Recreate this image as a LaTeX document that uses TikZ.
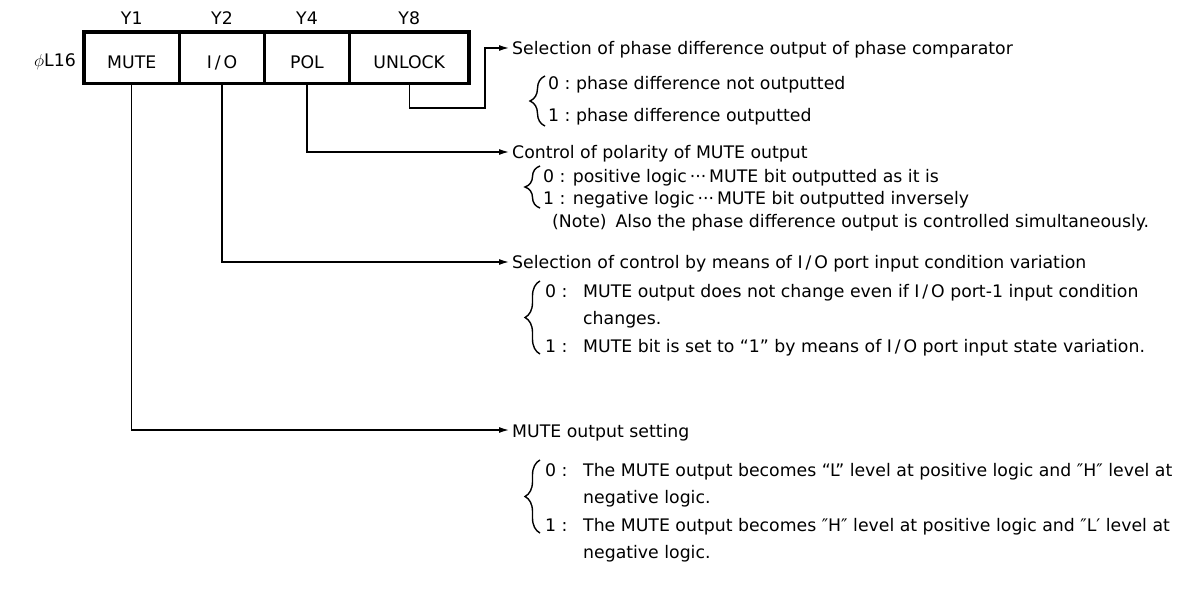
\documentclass[tikz,border=0pt]{standalone}
\usepackage{fontspec}
\setmainfont{DejaVu Sans}
\usetikzlibrary{arrows.meta,decorations.pathreplacing}
\begin{document}
\begin{tikzpicture}[x=1pt,y=-1pt,
  font=\fontsize{17.3}{20}\selectfont,
  cell/.style={draw, line width=3.5pt, minimum height=51.5pt, inner sep=0pt, text height=21pt, text depth=0pt},
  ylab/.style={anchor=base, inner sep=0pt},
  head/.style={anchor=west, inner sep=0pt, text height=14pt, text depth=0pt},
  item/.style={anchor=base west, inner sep=0pt},
  conn/.style={line width=1.3pt},
  arr/.style={conn, -{Latex[length=10pt,width=6pt]}, shorten >=3pt},
  brc/.style={decorate, decoration={brace, amplitude=15pt, aspect=0.5}, line width=1.4pt}
]
\useasboundingbox (0,0) rectangle (1178,596);

% register cells
\node[cell, minimum width=95.5pt] (mute) at (131.75,57.75) {MUTE};
\node[cell, minimum width=85pt] (io) at (222,57.75) {I\,/\,O};
\node[cell, minimum width=85pt] (pol) at (307,57.75) {POL};
\node[cell, minimum width=119.5pt] (unlock) at (409.25,57.75) {UNLOCK};

\node[ylab] (y1) at ([yshift=6pt]mute.north) {Y1};
\node[ylab] (y2) at ([yshift=6pt]io.north) {Y2};
\node[ylab] (y4) at ([yshift=6pt]pol.north) {Y4};
\node[ylab] (y8) at ([yshift=6pt]unlock.north) {Y8};
\node[anchor=base east, inner sep=0pt] (reg) at (76,67) {$\phi$L16};

% headings
\node[head] (h1) at (512,48) {Selection of phase difference output of phase comparator};
\node[head] (h2) at (512,152) {Control of polarity of MUTE output};
\node[head] (h3) at (512,262) {Selection of control by means of I\,/\,O port input condition variation};
\node[head] (h4) at (512,430) {MUTE output setting};

% connectors
\coordinate (uk) at (485,108);
\draw[arr] (unlock.south) |- (uk) |- (h1.west);
\draw[arr] (pol.south) |- (h2.west);
\draw[arr] (io.south) |- (h3.west);
\draw[arr] (mute.south) |- (h4.west);

% group 1
\draw[brc] (545,126) -- (545,76);
\node[item] (g1a) at (548,90) {0~:~phase difference not outputted};
\node[item] (g1b) at (548,122) {1~:~phase difference outputted};

% group 2
\draw[brc] (540,208) -- (540,166);
\node[item] (g2a) at (543,183) {0 : positive logic\,···\,MUTE bit outputted as it is};
\node[item] (g2b) at (543,205) {1 : negative logic\,···\,MUTE bit outputted inversely};
\node[item] (note) at (552,228) {(Note)\hspace{9pt}Also the phase difference output is controlled simultaneously.};

% group 3
\draw[brc] (540,354) -- (540,281);
\node[item] (g3a) at (545,297) {\makebox[38pt][l]{0 :}MUTE output does not change even if I\,/\,O port-1 input condition};
\node[item] (g3b) at (583,324) {changes.};
\node[item] (g3c) at (545,352) {\makebox[38pt][l]{1 :}MUTE bit is set to “1” by means of I\,/\,O port input state variation.};

% group 4
\draw[brc] (540,533) -- (540,460);
\node[item] (g4a) at (545,476) {\makebox[38pt][l]{0 :}The MUTE output becomes “L” level at positive logic and ″H″ level at};
\node[item] (g4b) at (583,503) {negative logic.};
\node[item] (g4c) at (545,531) {\makebox[38pt][l]{1 :}The MUTE output becomes ″H″ level at positive logic and ″L′ level at};
\node[item] (g4d) at (583,558) {negative logic.};
\end{tikzpicture}
\end{document}
